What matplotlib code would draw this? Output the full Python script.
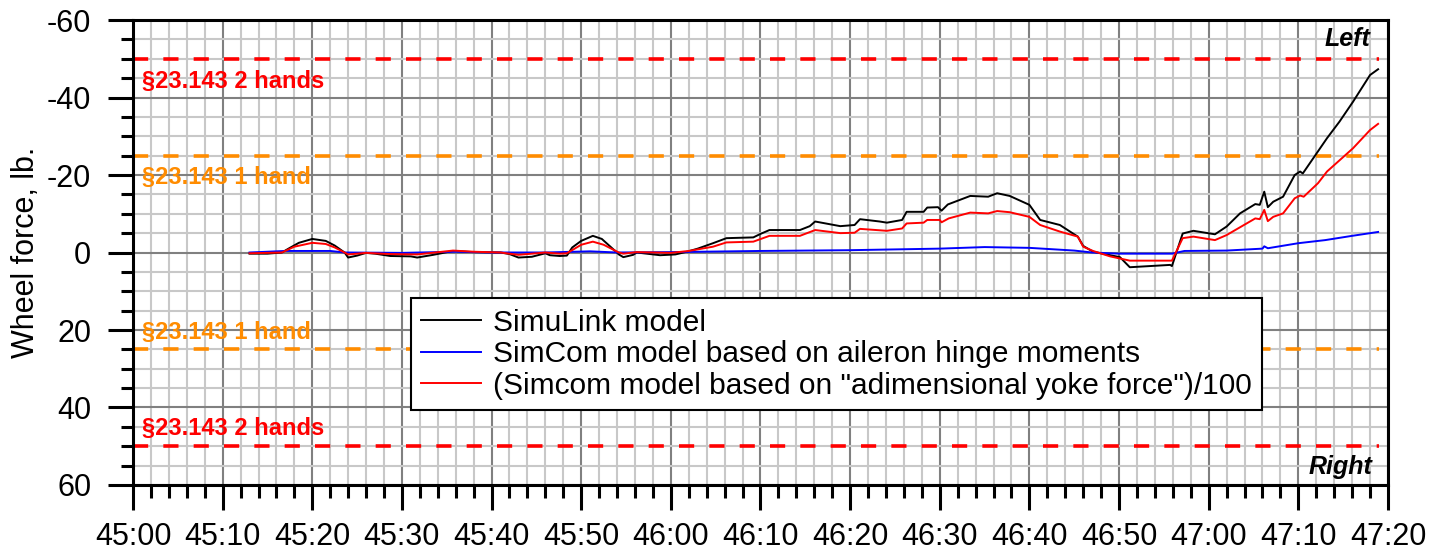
import matplotlib
matplotlib.use("Agg")
import matplotlib.pyplot as plt
from matplotlib.ticker import MultipleLocator, FuncFormatter

plt.rcParams['font.family'] = ['Liberation Sans', 'DejaVu Sans']
plt.rcParams['axes.unicode_minus'] = False

# time = seconds after 45:00
t_simulink = [13.0, 15.0, 16.6, 17.5, 18.5, 20.0, 21.5, 22.5, 23.6, 24.0, 25.0, 26.0, 27.0, 28.7, 31.0,
              31.7, 33.5, 35.7, 38.0, 41.0, 42.0, 43.0, 44.5, 46.0, 46.5, 47.6, 48.4, 49.0, 50.0, 51.3,
              52.3, 53.5, 54.2, 54.7, 55.8, 56.2, 58.8, 60.5, 61.8, 63.0, 64.7, 66.2, 69.2, 70.0, 71.0,
              74.4, 75.5, 76.1, 78.9, 80.5, 81.1, 83.3, 84.1, 85.8, 86.3, 88.2, 88.6, 89.8, 90.2, 90.9,
              93.4, 95.4, 96.4, 97.8, 100.0, 101.2, 103.4, 105.4, 106.0, 107.1, 110.1, 111.2, 115.7, 115.9,
              117.1, 118.3, 120.7, 122.0, 123.5, 125.2, 125.7, 126.2, 126.6, 127.2, 128.3, 129.6, 130.2,
              130.5, 133.2, 134.6, 136.1, 138.0, 138.9]
f_simulink = [0.3, 0.3, 0.0, -1.2, -2.5, -3.5, -3.0, -1.8, 0.0, 1.3, 0.8, 0.1, 0.3, 0.9, 1.0,
              1.3, 0.6, -0.4, -0.1, 0.0, 0.4, 1.3, 1.1, 0.2, 0.7, 0.9, 0.8, -1.3, -3.0, -4.3,
              -3.5, -1.0, 0.5, 1.2, 0.6, 0.0, 0.7, 0.5, -0.2, -1.0, -2.4, -3.7, -3.9, -4.8, -5.8,
              -5.8, -6.8, -8.0, -6.8, -7.1, -8.6, -8.0, -7.7, -8.4, -10.5, -10.5, -11.6, -11.7, -10.8, -12.4,
              -14.6, -14.4, -15.3, -14.6, -12.3, -8.4, -7.1, -4.1, -1.7, -0.2, 1.2, 3.8, 3.2, 3.5,
              -4.9, -5.6, -4.7, -6.7, -10.1, -12.5, -12.3, -15.7, -11.7, -13.1, -14.4, -20.0, -20.9,
              -20.4, -29.5, -33.8, -38.9, -45.8, -47.3]

t_hinge = [13.0, 17.0, 22.0, 23.6, 30.0, 36.0, 40.0, 46.0, 51.0, 54.0, 60.0, 70.0, 80.0, 90.0, 95.0,
           100.0, 105.0, 107.0, 110.0, 115.9, 117.3, 122.0, 126.0, 126.2, 126.6, 130.0, 133.0, 136.0, 138.9]
f_hinge = [0.0, -0.4, -0.4, 0.0, 0.1, -0.2, 0.0, 0.0, -0.3, 0.0, -0.1, -0.4, -0.6, -1.0, -1.4,
           -1.2, -0.5, 0.0, 0.3, 0.3, -0.4, -0.5, -1.0, -1.6, -1.1, -2.4, -3.2, -4.3, -5.3]

t_yoke = [13.0, 16.6, 18.0, 20.0, 21.5, 22.5, 23.6, 24.0, 26.0, 28.7, 31.7, 35.7, 38.0, 41.0, 43.0,
          46.0, 47.6, 48.4, 50.0, 51.3, 52.5, 54.2, 54.7, 56.2, 60.0, 62.0, 64.7, 66.2, 69.2, 71.0,
          74.4, 76.1, 78.9, 80.5, 81.1, 84.1, 85.8, 86.3, 88.2, 88.6, 90.0, 90.2, 91.0, 93.4, 95.4,
          96.4, 97.8, 100.0, 101.2, 103.4, 105.4, 106.0, 107.1, 109.0, 111.2, 115.9, 117.1, 118.3, 120.7,
          122.0, 125.2, 125.7, 126.2, 126.6, 127.2, 128.3, 129.6, 130.2, 130.6, 132.2, 133.2, 136.1,
          138.0, 138.9]
f_yoke = [0.2, 0.0, -1.5, -2.5, -2.2, -1.3, 0.0, 0.5, 0.1, 0.4, 0.5, -0.5, -0.2, 0.0, 0.6,
          0.0, 0.3, 0.2, -2.0, -2.8, -2.0, 0.0, 0.3, -0.1, 0.1, -0.4, -1.5, -2.6, -2.8, -4.3,
          -4.3, -5.8, -5.0, -5.1, -6.1, -5.6, -6.2, -7.5, -7.7, -8.4, -8.4, -7.8, -8.8, -10.3, -10.1,
          -10.7, -10.4, -9.2, -7.1, -5.4, -4.1, -1.5, -0.4, 1.0, 2.1, 2.1, -3.7, -4.1, -3.2,
          -4.5, -8.8, -8.6, -11.0, -8.1, -9.2, -10.1, -14.0, -14.7, -14.4, -17.9, -20.9, -26.9,
          -31.6, -33.2]

limits = [-50, -25, 25, 50]
limit_colors = ['#ff0000', '#ff8c00', '#ff8c00', '#ff0000']
limit_labels = ['§23.143 2 hands', '§23.143 1 hand', '§23.143 1 hand', '§23.143 2 hands']

fig = plt.figure(figsize=(14.38, 5.5), dpi=100)
ax = fig.add_axes([0.0925, 0.1182, 0.8727, 0.8454])

ax.set_xlim(0, 140)
ax.set_ylim(60, -60)

# grid
ax.xaxis.set_major_locator(MultipleLocator(10))
ax.xaxis.set_minor_locator(MultipleLocator(2))
ax.yaxis.set_major_locator(MultipleLocator(20))
ax.yaxis.set_minor_locator(MultipleLocator(5))
ax.grid(which='minor', color='#c8c8c8', lw=1.5, zorder=0)
ax.grid(which='major', color='#808080', lw=1.5, zorder=0)
ax.set_axisbelow(True)

# limit lines
for lim, c in zip(limits, limit_colors):
    ax.plot([0, 139], [lim, lim], color=c, lw=2.6, linestyle=(0, (4.2, 4.2)), zorder=2)

ax.text(1, -47.2, limit_labels[0], color=limit_colors[0], fontsize=17, fontweight='bold', va='top', ha='left')
ax.text(1, -22.4, limit_labels[1], color=limit_colors[1], fontsize=17, fontweight='bold', va='top', ha='left')
ax.text(1, 23.6, limit_labels[2], color=limit_colors[2], fontsize=17, fontweight='bold', va='bottom', ha='left')
ax.text(1, 48.4, limit_labels[3], color=limit_colors[3], fontsize=17, fontweight='bold', va='bottom', ha='left')

ax.text(138.0, -55, 'Left', fontsize=18, fontweight='bold', fontstyle='italic', ha='right', va='center')
ax.text(138.3, 55.3, 'Right', fontsize=18, fontweight='bold', fontstyle='italic', ha='right', va='center')

ax.plot(t_simulink, f_simulink, color='black', lw=1.4, label='SimuLink model', zorder=4)
ax.plot(t_hinge, f_hinge, color='#0000ff', lw=1.4, label='SimCom model based on aileron hinge moments', zorder=4)
ax.plot(t_yoke, f_yoke, color='#ff0000', lw=1.4,
        label='(Simcom model based on "adimensional yoke force")/100', zorder=4)

leg = ax.legend(loc='upper left', bbox_to_anchor=(0.2215, 0.402), borderaxespad=0, fontsize=21.5,
                fancybox=False, framealpha=1, edgecolor='black', handlelength=2.0, handletextpad=0.4,
                borderpad=0.35, labelspacing=0.12)
leg.get_frame().set_linewidth(1.5)
leg.set_zorder(6)

def fmt_time(x, pos):
    total = 45 * 60 + int(round(x))
    return '%d:%02d' % (total // 60, total % 60)

ax.xaxis.set_major_formatter(FuncFormatter(fmt_time))
ax.yaxis.set_major_formatter(FuncFormatter(lambda v, p: '%d' % v))

for s in ax.spines.values():
    s.set_linewidth(2.2)
ax.tick_params(which='major', length=18, width=2.2, labelsize=22, pad=9)
ax.tick_params(axis='y', which='major', pad=12)
ax.tick_params(which='minor', length=9, width=2.2)
ax.set_ylabel('Wheel force, lb.', fontsize=22, labelpad=4)

fig.savefig('out.png', dpi=100)
